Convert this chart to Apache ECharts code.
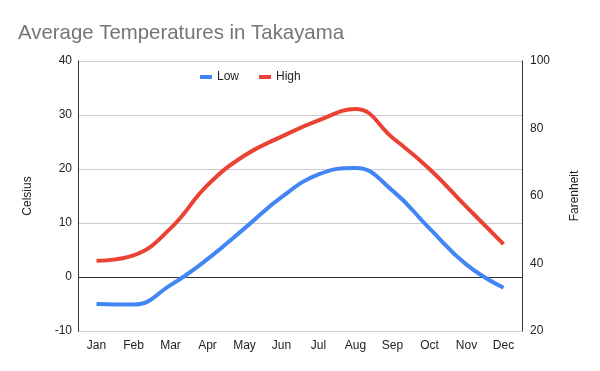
<!DOCTYPE html>
<html>
<head>
<meta charset="utf-8">
<script src="https://cdn.jsdelivr.net/npm/echarts@6/dist/echarts.min.js"></script>
<style>html,body{margin:0;padding:0;background:#fff}#c{width:600px;height:371px}</style>
</head>
<body>
<div id="c"></div>
<script>
const months = ['Jan','Feb','Mar','Apr','May','Jun','Jul','Aug','Sep','Oct','Nov','Dec'];
const lowC = [-5, -5.1, -1.5, 3.3, 9, 14.8, 19, 20.2, 16, 9, 2.3, -2];
const highC = [3, 4, 9, 17, 22.5, 26, 29, 31.1, 25.8, 20, 13, 6.1];
const titleText = 'Average Temperatures in Takayama';
const leftName = 'Celsius';
const rightName = 'Farenheit';

const FONT = 'Liberation Sans, Arial, sans-serif';
const chart = echarts.init(document.getElementById('c'), null, {renderer: 'canvas'});
chart.setOption({
  animation: false,
  textStyle: {fontFamily: FONT},
  title: {
    text: titleText, left: 13, top: 18,
    textStyle: {fontFamily: FONT, fontSize: 20.4, fontWeight: 'normal', color: '#757575'}
  },
  legend: {
    top: 66, left: 195, itemGap: 20, itemWidth: 12, itemHeight: 4,
    icon: 'rect',
    textStyle: {fontFamily: FONT, fontSize: 12, color: '#222'},
    data: ['Low', 'High']
  },
  grid: {left: 78, right: 78, top: 61, bottom: 40, containLabel: false},
  xAxis: {
    type: 'category', data: months, boundaryGap: true,
    axisLine: {show: false}, axisTick: {show: false},
    axisLabel: {color: '#222', fontSize: 12, margin: 9, fontFamily: FONT}
  },
  yAxis: [
    {
      type: 'value', min: -10, max: 40, interval: 10, position: 'left',
      name: leftName, nameLocation: 'middle', nameGap: 44, nameRotate: 90,
      nameTextStyle: {color: '#222', fontSize: 12, fontFamily: FONT},
      axisLine: {show: true, lineStyle: {color: '#333', width: 1}},
      axisTick: {show: false},
      axisLabel: {color: '#222', fontSize: 12, margin: 6, fontFamily: FONT},
      splitLine: {show: true, lineStyle: {color: '#ccc', width: 1}}
    },
    {
      type: 'value', min: 20, max: 100, interval: 20, position: 'right',
      alignTicks: false,
      name: rightName, nameLocation: 'middle', nameGap: 47, nameRotate: 90,
      nameTextStyle: {color: '#222', fontSize: 12, fontFamily: FONT},
      axisLine: {show: true, lineStyle: {color: '#333', width: 1}},
      axisTick: {show: false},
      axisLabel: {color: '#222', fontSize: 12, margin: 8, fontFamily: FONT},
      splitLine: {show: false}
    }
  ],
  series: [
    {
      name: 'Low', type: 'line', data: lowC, yAxisIndex: 0, smooth: 0.45,
      showSymbol: false, symbol: 'none',
      itemStyle: {color: '#4285F4'},
      lineStyle: {color: '#4285F4', width: 4},
      markLine: {
        silent: true, symbol: 'none', label: {show: false},
        lineStyle: {color: '#333', width: 1, type: 'solid'},
        data: [{yAxis: 0}], z: 1
      },
      z: 3
    },
    {
      name: 'High', type: 'line', data: highC, yAxisIndex: 0, smooth: 0.45,
      showSymbol: false, symbol: 'none',
      itemStyle: {color: '#EA4335'},
      lineStyle: {color: '#EA4335', width: 4},
      z: 3
    }
  ]
});
</script>
</body>
</html>
